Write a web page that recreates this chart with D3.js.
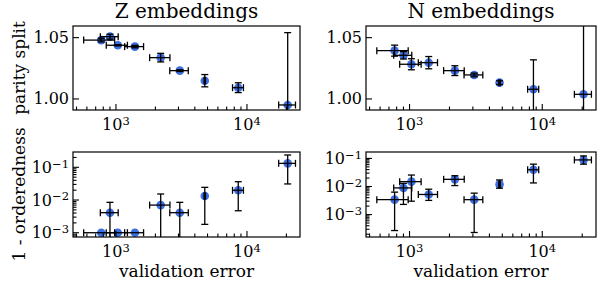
<!DOCTYPE html>
<html>
<head>
<meta charset="utf-8">
<script src="https://cdn.jsdelivr.net/npm/d3@7"></script>
<style>
body { margin: 0; background: #fff; }
svg text { font-family: "DejaVu Serif", serif; fill: #000; }
</style>
</head>
<body>
<div id="chart"></div>
<script>
// validation error (x) and its spread, same models in all four panels
var valErr   = [772, 900, 1033, 1395, 2195, 3070, 4765, 8580, 20460];
var valErrSd = [205, 140, 190, 230, 388, 495, 60, 820, 3000];

// parity split, Z and N embeddings
var zParity   = [1.0480, 1.0508, 1.0438, 1.0427, 1.0337, 1.0231, 1.0149, 1.0092, 0.9951];
var zParitySd = [0.0015, 0.0020, 0.0005, 0.0010, 0.0035, 0.0007, 0.0050, 0.0040, 0.0590];
var nParity   = [1.0394, 1.0356, 1.0283, 1.0296, 1.0231, 1.0196, 1.0133, 1.0079, 1.0038];
var nParitySd = [0.0045, 0.0030, 0.0045, 0.0050, 0.0040, 0.0015, 0.0015, 0.0240, 0.0800];

// 1 - orderedness, with the low / high end of each bar
var zOrder   = [0.0010, 0.0041, 0.0010, 0.0010, 0.0070, 0.0041, 0.0133, 0.0198, 0.132];
var zOrderLo = [0.0010, 1e-5,   0.0010, 0.0010, 1e-5,   1e-5,   0.0018, 0.0047, 0.031];
var zOrderHi = [0.0010, 0.0085, 0.0010, 0.0010, 0.0153, 0.0085, 0.0244, 0.0363, 0.238];
var nOrder   = [0.0034, 0.0089, 0.0149, 0.0052, 0.0180, 0.0034, 0.0119, 0.0394, 0.0885];
var nOrderLo = [0.00027, 0.0023, 0.0030, 0.0032, 0.0108, 0.00023, 0.0087, 0.0134, 0.0625];
var nOrderHi = [0.0063, 0.0130, 0.0256, 0.0080, 0.0242, 0.0058, 0.0171, 0.0625, 0.1225];

var titles = ["Z embeddings", "N embeddings"];
var xTicks = [1e3, 1e4];
var parityTicks = [1.00, 1.05];
var orderTicks = [1e-3, 1e-2, 1e-1];

var xDomain = [470, 25400];
var parityDomain = [0.991, 1.0595];
var orderDomains = [[0.00074, 0.294], [0.000159, 0.1694]];

var W = 597, H = 287;
var cols = [{x0: 73, x1: 300}, {x0: 366, x1: 596}];
var rows = [{y0: 26, y1: 110}, {y0: 152, y1: 237}];
var blue = "#3b6fe3";

var svg = d3.select("#chart").append("svg")
	.attr("width", W)
	.attr("height", H);

function rows9(y, lo, hi) {
	return valErr.map(function(v, i) {
		return {x: v, xlo: v - valErrSd[i], xhi: v + valErrSd[i], y: y[i], ylo: lo[i], yhi: hi[i]};
	});
}

var panels = [
	{c: 0, r: 0, data: rows9(zParity, zParity.map(function(d, i) { return d - zParitySd[i]; }), zParity.map(function(d, i) { return d + zParitySd[i]; })), log: false},
	{c: 1, r: 0, data: rows9(nParity, nParity.map(function(d, i) { return d - nParitySd[i]; }), nParity.map(function(d, i) { return d + nParitySd[i]; })), log: false},
	{c: 0, r: 1, data: rows9(zOrder, zOrderLo, zOrderHi), log: true},
	{c: 1, r: 1, data: rows9(nOrder, nOrderLo, nOrderHi), log: true}
];

// minor ticks for a log axis: 2..9 times each power of ten inside the domain
function logMinors(dom) {
	var out = [];
	for (var e = Math.floor(Math.log10(dom[0])); e <= Math.ceil(Math.log10(dom[1])); e++) {
		for (var k = 2; k <= 9; k++) {
			var v = k * Math.pow(10, e);
			if (v >= dom[0] && v <= dom[1]) out.push(v);
		}
	}
	return out;
}

function supLabel(sel, exp) {
	sel.text("10");
	sel.append("tspan")
		.attr("dy", "-0.45em")
		.style("font-size", "0.72em")
		.text(exp < 0 ? "\u2212" + (-exp) : exp);
}

panels.forEach(function(p, pi) {
	var c = cols[p.c], r = rows[p.r];
	var x = d3.scaleLog().domain(xDomain).range([c.x0, c.x1]);
	var y = p.log
		? d3.scaleLog().domain(orderDomains[p.c]).range([r.y1, r.y0])
		: d3.scaleLinear().domain(parityDomain).range([r.y1, r.y0]);

	var g = svg.append("g");

	// clip the marks to the axes box
	svg.append("clipPath").attr("id", "clip" + pi)
		.append("rect")
		.attr("x", c.x0).attr("y", r.y0)
		.attr("width", c.x1 - c.x0).attr("height", r.y1 - r.y0);

	var marks = g.append("g").attr("clip-path", "url(#clip" + pi + ")");

	marks.selectAll("circle")
		.data(p.data)
		.enter().append("circle")
		.attr("cx", function(d) { return x(d.x); })
		.attr("cy", function(d) { return y(d.y); })
		.attr("r", 4.3)
		.style("fill", blue);

	var cap = 3.5;
	var bars = marks.append("g")
		.style("stroke", "#000")
		.style("stroke-width", 1.3)
		.style("fill", "none");

	p.data.forEach(function(d) {
		var cx = x(d.x), cy = y(d.y);
		// horizontal bar
		bars.append("line").attr("x1", x(d.xlo)).attr("x2", x(d.xhi)).attr("y1", cy).attr("y2", cy);
		bars.append("line").attr("x1", x(d.xlo)).attr("x2", x(d.xlo)).attr("y1", cy - cap).attr("y2", cy + cap);
		bars.append("line").attr("x1", x(d.xhi)).attr("x2", x(d.xhi)).attr("y1", cy - cap).attr("y2", cy + cap);
		if (d.ylo === d.yhi) return;
		// vertical bar
		var ylo = y(d.ylo), yhi = y(d.yhi);
		bars.append("line").attr("x1", cx).attr("x2", cx).attr("y1", ylo).attr("y2", yhi);
		bars.append("line").attr("x1", cx - cap).attr("x2", cx + cap).attr("y1", ylo).attr("y2", ylo);
		bars.append("line").attr("x1", cx - cap).attr("x2", cx + cap).attr("y1", yhi).attr("y2", yhi);
	});

	// ticks, pointing inward
	var ticks = g.append("g").style("stroke", "#000").style("stroke-width", 1.1);
	xTicks.forEach(function(t) {
		ticks.append("line").attr("x1", x(t)).attr("x2", x(t)).attr("y1", r.y1).attr("y2", r.y1 - 6);
	});
	logMinors(xDomain).forEach(function(t) {
		ticks.append("line").attr("x1", x(t)).attr("x2", x(t)).attr("y1", r.y1).attr("y2", r.y1 - 3.5);
	});
	var yt = p.log ? orderTicks : parityTicks;
	yt.forEach(function(t) {
		ticks.append("line").attr("x1", c.x0).attr("x2", c.x0 + 6).attr("y1", y(t)).attr("y2", y(t));
	});
	if (p.log) {
		logMinors(orderDomains[p.c]).forEach(function(t) {
			ticks.append("line").attr("x1", c.x0).attr("x2", c.x0 + 3.5).attr("y1", y(t)).attr("y2", y(t));
		});
	}

	// frame
	g.append("rect")
		.attr("x", c.x0).attr("y", r.y0)
		.attr("width", c.x1 - c.x0).attr("height", r.y1 - r.y0)
		.style("fill", "none")
		.style("stroke", "#000")
		.style("stroke-width", 1.2);

	// tick labels
	xTicks.forEach(function(t) {
		g.append("text")
			.attr("x", x(t)).attr("y", r.y1 + 20)
			.attr("text-anchor", "middle")
			.style("font-size", "16px")
			.call(supLabel, Math.round(Math.log10(t)));
	});
	yt.forEach(function(t) {
		var lab = g.append("text")
			.attr("x", c.x0 - 4).attr("y", y(t) + 5.5)
			.attr("text-anchor", "end")
			.style("font-size", "16px");
		if (p.log) lab.call(supLabel, Math.round(Math.log10(t)));
		else lab.text(t.toFixed(2));
	});

	if (p.r === 0) {
		g.append("text")
			.attr("x", (c.x0 + c.x1) / 2).attr("y", 18)
			.attr("text-anchor", "middle")
			.style("font-size", "20px")
			.text(titles[p.c]);
	} else {
		g.append("text")
			.attr("x", (c.x0 + c.x1) / 2).attr("y", 277)
			.attr("text-anchor", "middle")
			.style("font-size", "17px")
			.text("validation error");
	}
});

// y axis labels
svg.append("text")
	.attr("transform", "translate(25," + (rows[0].y0 + rows[0].y1) / 2 + ") rotate(-90)")
	.attr("text-anchor", "middle")
	.style("font-size", "17px")
	.text("parity split");
svg.append("text")
	.attr("transform", "translate(25," + (rows[1].y0 + rows[1].y1) / 2 + ") rotate(-90)")
	.attr("text-anchor", "middle")
	.style("font-size", "17px")
	.text("1 - orderedness");
</script>
</body>
</html>
